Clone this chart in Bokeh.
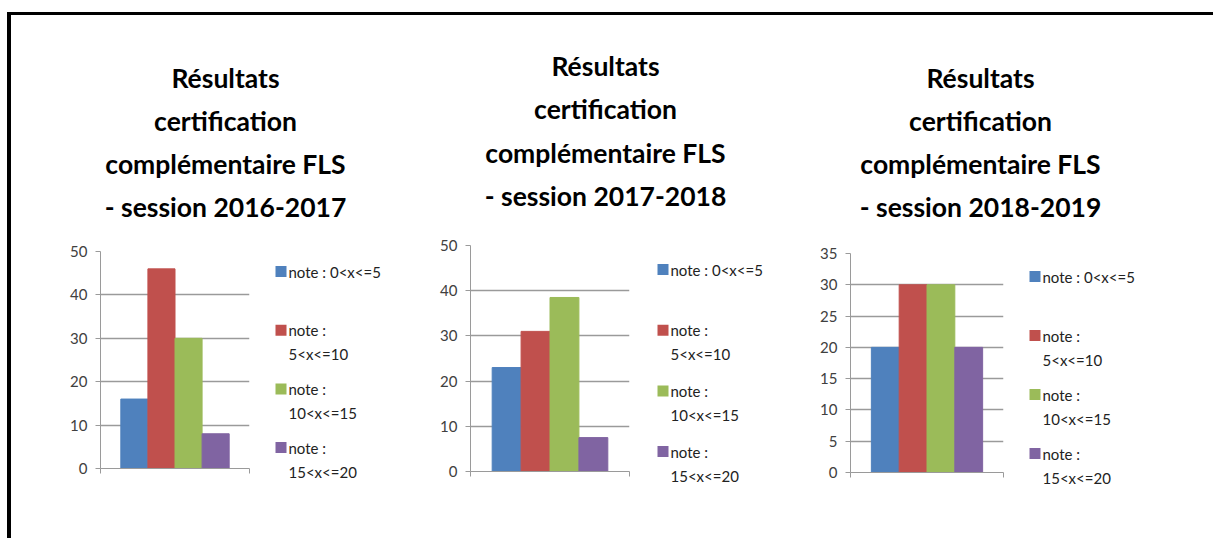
from bokeh.plotting import figure
from bokeh.models import (Range1d, SingleIntervalTicker, FixedTicker,
                          ColumnDataSource, Spacer)
from bokeh.layouts import row, column
from bokeh.core.properties import value
from bokeh.embed import file_html
from bokeh.resources import INLINE

# ---------------- data ----------------
categories = ["note : 0<x<=5", "note : 5<x<=10", "note : 10<x<=15", "note : 15<x<=20"]
legend_lines = [["note : 0<x<=5"], ["note :", "5<x<=10"], ["note :", "10<x<=15"], ["note :", "15<x<=20"]]
colors = ["#4F81BD", "#C0504D", "#9BBB59", "#8064A2"]

sessions = ["2016-2017", "2017-2018", "2018-2019"]
title_head = ["Résultats", "certification", "complémentaire FLS"]

values_2016_2017 = [16, 46, 30, 8]
values_2017_2018 = [23, 31, 38.5, 7.5]
values_2018_2019 = [20, 30, 30, 20]

y_max = [50, 50, 35]
y_step = [10, 10, 5]

# ---------------- style / layout (page pixels) ----------------
GRAY = "#9A9A9A"
FONT = "Lato"
PAD = 0.75  # Excel gap width 150 %
Y_TOP, Y_SPLIT, Y_BOT = 15, 235, 536
PAGE_H = 538

layout_cfg = [
    dict(x0=11, xs=262, x1=420, fl=100, fr=249, ft=251, fb=468,
         tx=225, ty0=77, tstep=43, lx=275, ly0=271, lpitch=58.7),
    dict(x0=420, xs=640, x1=810, fl=470, fr=629, ft=245, fb=471,
         tx=605, ty0=65, tstep=43.5, lx=657, ly0=269, lpitch=60.7),
    dict(x0=810, xs=1015, x1=1211, fl=850, fr=1003, ft=253, fb=472,
         tx=980, ty0=77, tstep=43.3, lx=1029, ly0=276, lpitch=59),
]


def blank_fig(xa, xb, ya, yb, top_border=0):
    """Figure whose frame spans xa..xb, ya..yb in page pixels (y down)."""
    p = figure(frame_width=int(xb - xa), frame_height=int(yb - ya),
               min_border_left=0, min_border_right=0,
               min_border_top=top_border, min_border_bottom=0,
               x_range=Range1d(xa, xb), y_range=Range1d(yb, ya),
               x_axis_type=None, y_axis_type=None, title=None,
               output_backend="svg", toolbar_location=None,
               outline_line_color=None, background_fill_color="white",
               border_fill_color="white")
    p.grid.visible = False
    return p


def make_block(values, session, ymax, ystep, c):
    n = len(categories)

    # ---- title ----
    tf = blank_fig(c["x0"], c["x1"], Y_TOP, Y_SPLIT)
    lines = title_head + ["- session " + session]
    tf.text(x=[c["tx"]] * len(lines), y=[c["ty0"] + i * c["tstep"] for i in range(len(lines))],
            text=lines, text_align="center", text_baseline="middle",
            text_font=value(FONT), text_font_style="bold", text_font_size="26.5px",
            text_color="#000000")

    # ---- bar chart ----
    p = figure(frame_width=c["fr"] - c["fl"], frame_height=c["fb"] - c["ft"],
               min_border_left=c["fl"] - c["x0"], min_border_right=c["xs"] - c["fr"],
               min_border_top=c["ft"] - Y_SPLIT, min_border_bottom=Y_BOT - c["fb"],
               x_range=Range1d(-0.5 - PAD, n - 0.5 + PAD), y_range=Range1d(0, ymax),
               output_backend="svg", toolbar_location=None, title=None,
               outline_line_color=None, background_fill_color="white",
               border_fill_color="white")
    src = ColumnDataSource(dict(x=list(range(n)), top=values, color=colors, cat=categories))
    p.vbar(x="x", top="top", width=1.0, fill_color="color", line_color="color", source=src)

    yax = p.yaxis[0]
    yax.ticker = SingleIntervalTicker(interval=ystep)
    yax.axis_line_color = GRAY
    yax.major_tick_line_color = GRAY
    yax.major_tick_out = 5
    yax.major_tick_in = 0
    yax.minor_tick_line_color = None
    yax.major_label_standoff = 8
    yax.major_label_text_font = FONT
    yax.major_label_text_font_size = "15px"
    yax.major_label_text_color = "#404040"

    xax = p.xaxis[0]
    xax.ticker = FixedTicker(ticks=[-0.5 - PAD, n - 0.5 + PAD])
    xax.axis_line_color = GRAY
    xax.major_tick_line_color = GRAY
    xax.major_tick_out = 5
    xax.major_tick_in = 0
    xax.minor_tick_line_color = None
    xax.major_label_text_color = None   # end ticks only, no labels

    p.xgrid.grid_line_color = None
    p.ygrid.grid_line_color = GRAY
    p.ygrid.grid_line_width = 1.6

    # ---- legend (frame top aligned with the bar chart's frame top) ----
    lf = blank_fig(c["xs"], c["x1"], c["ft"], Y_BOT, top_border=c["ft"] - Y_SPLIT)
    sw_y = [c["ly0"] + i * c["lpitch"] for i in range(n)]
    lf.rect(x=[c["lx"] + 5.5] * n, y=sw_y, width=11, height=11,
            fill_color=colors, line_color=None)
    tx, ty, tt = [], [], []
    for i, ll in enumerate(legend_lines):
        for j, line in enumerate(ll):
            tx.append(c["lx"] + 13)
            ty.append(sw_y[i] + j * 24)
            tt.append(line)
    lf.text(x=tx, y=ty, text=tt, text_align="left", text_baseline="middle",
            text_font=value(FONT), text_font_size="15px", text_color="#222222")

    return column(tf, row(p, lf))


blocks = [
    make_block(values_2016_2017, sessions[0], y_max[0], y_step[0], layout_cfg[0]),
    make_block(values_2017_2018, sessions[1], y_max[1], y_step[1], layout_cfg[1]),
    make_block(values_2018_2019, sessions[2], y_max[2], y_step[2], layout_cfg[2]),
]

BLACK = {"background-color": "#000000"}
W_TOP = 1202
left_gap = Spacer(width=7, height=Y_BOT)
left_border = column(Spacer(width=4, height=12), Spacer(width=4, height=PAGE_H - 12, styles=BLACK))
top_border = column(Spacer(width=W_TOP, height=12), Spacer(width=W_TOP, height=3, styles=BLACK))
layout = row(left_gap, left_border, column(top_border, row(*blocks)))

open("out.html", "w").write(file_html(layout, INLINE))
